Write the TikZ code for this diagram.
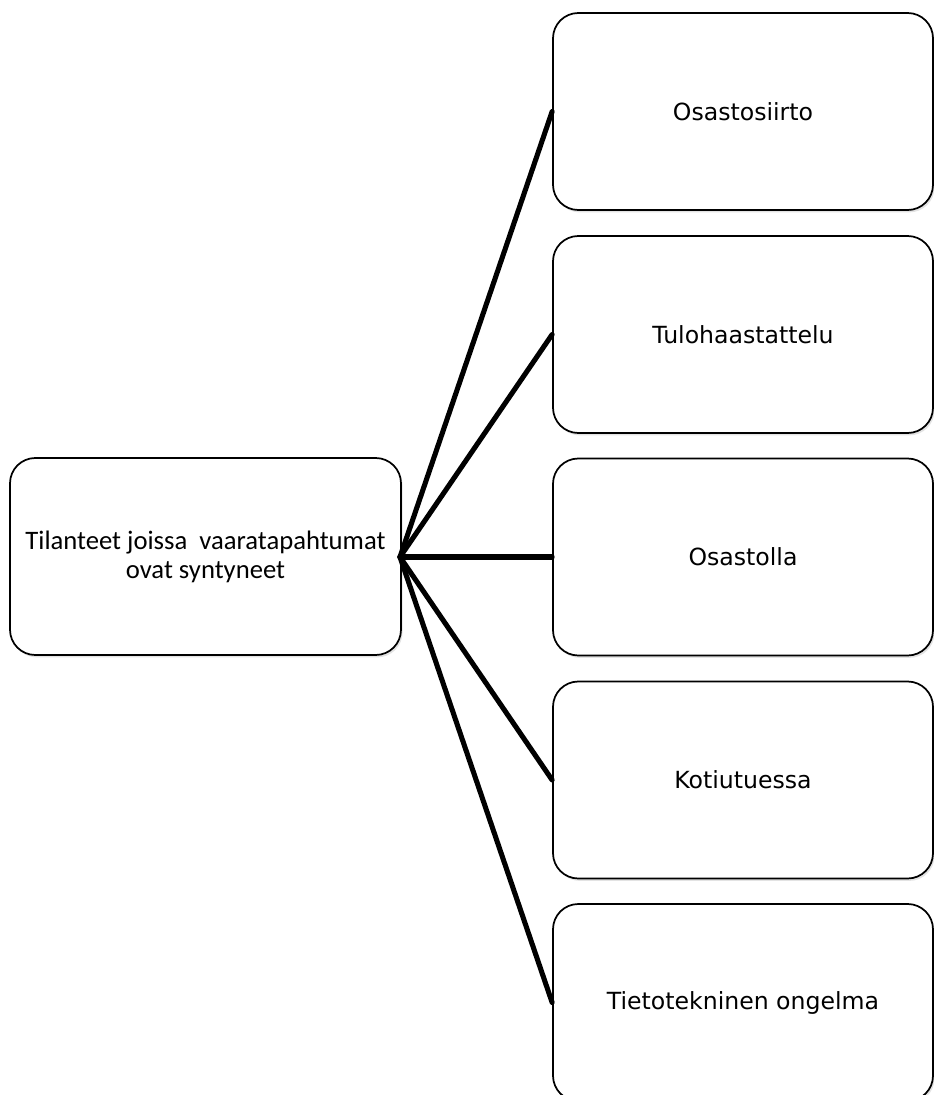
\documentclass[tikz,border=0pt]{standalone}
\usepackage{fontspec}
\setmainfont{Carlito}
\newfontfamily\rightfont{DejaVu Sans}
\usetikzlibrary{shadows}
\tikzset{
  boxbase/.style={draw=black, line width=1.3pt, rounded corners=19pt, fill=white,
    drop shadow={opacity=0.22, shadow xshift=1.2pt, shadow yshift=-1.8pt},
    minimum height=147.75pt, inner sep=0pt, align=center},
  leftbox/.style={boxbase, minimum width=293.25pt, font=\fontsize{20}{21.8}\selectfont},
  rightbox/.style={boxbase, minimum width=285pt, font=\rightfont\fontsize{17.7}{21}\selectfont},
  link/.style={line width=3.8pt, black, line cap=round},
}
\begin{document}
\begin{tikzpicture}[x=0.75pt,y=-0.75pt]
\useasboundingbox (0,0) rectangle (934,1095);
\fill[white] (0,0) rectangle (934,1095);
\node[leftbox] (src) at (205.5,556.5) {Tilanteet joissa\ \ vaaratapahtumat\\ovat syntyneet};
\node[rightbox] (b1) at (743,111.5) {Osastosiirto};
\node[rightbox] (b2) at (743,334.5) {Tulohaastattelu};
\node[rightbox] (b3) at (743,557) {Osastolla};
\node[rightbox] (b4) at (743,780) {Kotiutuessa};
\node[rightbox] (b5) at (743,1002.5) {Tietotekninen\ ongelma};
\coordinate (hub) at (400,557);
\foreach \b in {b1,b2,b3,b4,b5}{
  \draw[link] (hub) -- (\b.west);
}
\end{tikzpicture}
\end{document}
